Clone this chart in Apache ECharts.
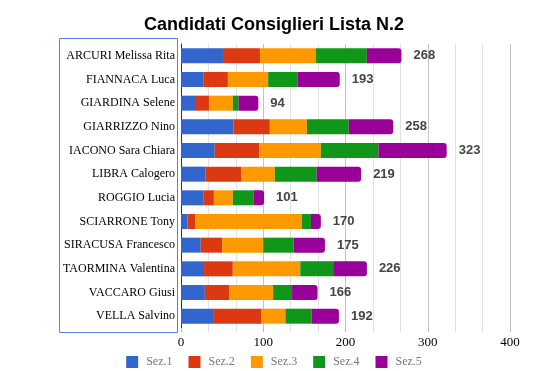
<!DOCTYPE html>
<html>
<head>
<meta charset="utf-8">
<script src="https://cdn.jsdelivr.net/npm/echarts@6/dist/echarts.min.js"></script>
<style>
html,body{margin:0;padding:0;background:#fff;}
#chart{width:548px;height:371px;}
</style>
</head>
<body>
<div id="chart"></div>
<script>
var categories = ["ARCURI Melissa Rita","FIANNACA Luca","GIARDINA Selene","GIARRIZZO Nino","IACONO Sara Chiara","LIBRA Calogero","ROGGIO Lucia","SCIARRONE Tony","SIRACUSA Francesco","TAORMINA Valentina","VACCARO Giusi","VELLA Salvino"];
var sez1 = [51, 27, 17, 64, 41, 30, 27, 8, 24, 28, 29, 39];
var sez2 = [45, 30, 17, 44, 54, 43, 13, 9, 26, 35, 30, 59];
var sez3 = [68, 49, 29, 45, 75, 41, 23, 130, 50, 82, 53, 29];
var sez4 = [62, 36, 7, 51, 70, 51, 25, 11, 37, 40, 23, 32];
var sez5 = [42, 51, 24, 54, 83, 54, 13, 12, 38, 41, 31, 33];
var totals = [268, 193, 94, 258, 323, 219, 101, 170, 175, 226, 166, 192];
var seriesNames = ["Sez.1","Sez.2","Sez.3","Sez.4","Sez.5"];
var xTicks = [0, 100, 200, 300, 400];

var colors = ["#3366cc","#dc3912","#ff9900","#109618","#990099"];
var data = [sez1, sez2, sez3, sez4, sez5];

var chart = echarts.init(document.getElementById('chart'), null, {renderer:'canvas'});
var series = data.map(function(d, i){
  var s = {
    name: seriesNames[i],
    type: 'bar',
    stack: 'tot',
    data: d,
    barWidth: 15,
    itemStyle: {color: colors[i]},
    emphasis: {disabled: true}
  };
  if (i === 4) {
    s.itemStyle.borderRadius = [0, 3, 3, 0];
    s.label = {
      show: true,
      position: 'right',
      distance: 12,
      formatter: function(p){ return totals[p.dataIndex]; },
      fontFamily: 'Liberation Sans, Arial, sans-serif',
      fontWeight: 'bold',
      fontSize: 13,
      color: '#444'
    };
  }
  return s;
});

chart.setOption({
  animation: false,
  color: colors,
  title: {
    text: 'Candidati Consiglieri Lista N.2',
    left: 'center',
    top: 11,
    textStyle: {fontFamily: 'Liberation Sans, Arial, sans-serif', fontWeight: 'bold', fontSize: 18, color: '#000'}
  },
  legend: {
    data: seriesNames,
    left: 'center',
    top: 351,
    itemWidth: 12,
    itemHeight: 12,
    itemGap: 16,
    icon: 'rect',
    textStyle: {fontFamily: 'Liberation Serif, Times New Roman, serif', fontSize: 12, color: '#777', padding: [0,0,0,3]}
  },
  grid: {left: 181, right: 38, top: 44, bottom: 43, containLabel: false},
  xAxis: {
    type: 'value',
    min: xTicks[0],
    max: xTicks[xTicks.length-1],
    interval: 100,
    axisLine: {show: false},
    axisTick: {show: true, length: 4, lineStyle: {color: '#bbb'}},
    minorTick: {show: true, splitNumber: 3, length: 4, lineStyle: {color: '#ddd'}},
    splitLine: {show: true, lineStyle: {color: '#c4c4c4', width: 1}},
    minorSplitLine: {show: true, lineStyle: {color: '#e2e2e2', width: 1}},
    axisLabel: {fontFamily: 'Liberation Serif, Times New Roman, serif', fontSize: 13, color: '#000', margin: 8}
  },
  yAxis: {
    type: 'category',
    data: categories,
    inverse: true,
    axisLine: {show: true, lineStyle: {color: '#333', width: 1}},
    axisTick: {show: false},
    axisLabel: {fontFamily: 'Liberation Serif, Times New Roman, serif', fontSize: 12, color: '#000', margin: 6}
  },
  graphic: [{
    type: 'rect',
    shape: {x: 59.5, y: 38.5, width: 118, height: 294},
    style: {fill: 'none', stroke: '#4f86dc', lineWidth: 1},
    z: 100
  }],
  series: series
});
</script>
</body>
</html>
